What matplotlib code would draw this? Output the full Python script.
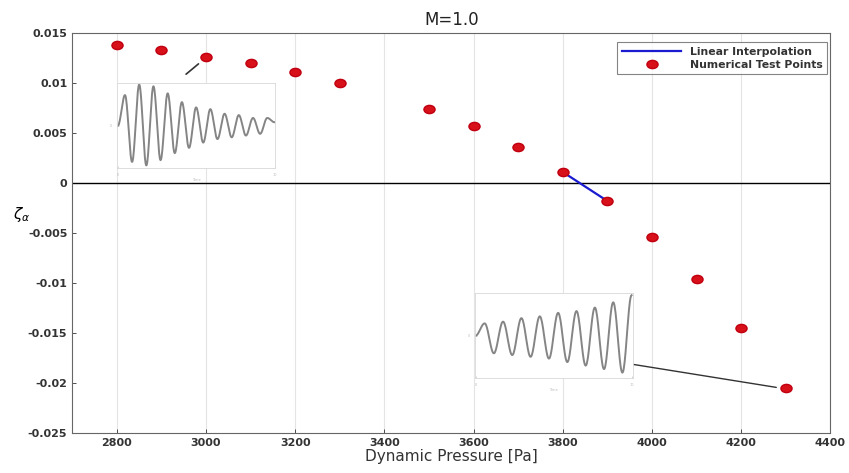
import numpy as np
import matplotlib.pyplot as plt
from matplotlib.path import Path
from matplotlib.transforms import Affine2D

# test points
q_dyn = [2800, 2900, 3000, 3100, 3200, 3300, 3500, 3600, 3700, 3800, 3900, 4000, 4100, 4200, 4300]
zeta = [0.0138, 0.0133, 0.0126, 0.0120, 0.0111, 0.0100, 0.0074, 0.0057, 0.0036, 0.0011,
        -0.0018, -0.0054, -0.0096, -0.0145, -0.0205]

# linear interpolation across the zero crossing
interp_q = [3800, 3900]
interp_zeta = [0.0011, -0.0018]

xticks = [2800, 3000, 3200, 3400, 3600, 3800, 4000, 4200, 4400]
yticks = [-0.025, -0.02, -0.015, -0.01, -0.005, 0, 0.005, 0.01, 0.015]
ytick_labels = ['-0.025', '-0.02', '-0.015', '-0.01', '-0.005', '0', '0.005', '0.01', '0.015']

# extrema of the time signals shown in the insets (arbitrary units)
decay_extrema = [0, 87, -103, 117, -113, 112, -98, 92, -78, 67, -63, 52, -48, 47, -38,
                 34, -33, 30, -28, 22, -23, 22, 10]
grow_extrema = [0, 35, -50, 40, -55, 50, -60, 55, -65, 65, -75, 70, -85, 80, -95, 95, -105, 115]


def half_cycles(extrema, n=20):
    # join successive extrema with half-cosine segments
    out = []
    for a, b in zip(extrema[:-1], extrema[1:]):
        s = np.linspace(0, np.pi, n, endpoint=False)
        out.append(a + (b - a) * (1 - np.cos(s)) / 2)
    out.append([extrema[-1]])
    return np.concatenate(out)


def add_inset(fig, rect, extrema):
    ax = fig.add_axes(rect)
    sig = half_cycles(extrema)
    ax.plot(np.arange(len(sig)), sig, color='#858585', lw=1.4)
    ax.set_xlim(-2, len(sig) + 1)
    ax.set_ylim(-120, 122)
    for s in ax.spines.values():
        s.set_color('#d8d8d8')
        s.set_linewidth(0.6)
    ax.set_xticks([0, len(sig)])
    ax.set_xticklabels(['0', '10'])
    ax.set_yticks([0])
    ax.set_yticklabels(['0'])
    ax.tick_params(labelsize=2.5, colors='#bbbbbb', length=1.5, width=0.4, direction='in')
    ax.set_xlabel('Time', fontsize=2.5, color='#bbbbbb', labelpad=1)
    return ax


# slightly flattened dot, as in the original
oval = Path.unit_circle().transformed(Affine2D().scale(1.35, 1.0))

fig = plt.figure(figsize=(8.49, 4.73), dpi=100)
ax = fig.add_axes([0.085, 0.085, 0.893, 0.845])

ax.axhline(0, color='black', lw=1.0, zorder=1)
ax.grid(True, axis='x', color='#e4e4e4', lw=0.8)
ax.set_axisbelow(True)

ax.plot(interp_q, interp_zeta, color='#1a1ad0', lw=1.6, label='Linear Interpolation', zorder=3)
ax.plot(q_dyn, zeta, linestyle='none', marker=oval, color='#d8101a', markeredgecolor='#c00010',
        markersize=8, label='Numerical Test Points', zorder=4)

ax.set_xlim(2700, 4400)
ax.set_ylim(-0.025, 0.015)
ax.set_xticks(xticks)
ax.set_yticks(yticks)
ax.set_yticklabels(ytick_labels)
ax.tick_params(labelsize=8, colors='#333333', length=3, width=0.6, direction='in')
for lab in ax.get_xticklabels() + ax.get_yticklabels():
    lab.set_fontweight('semibold')
for s in ax.spines.values():
    s.set_color('#666666')
    s.set_linewidth(0.8)

ax.set_xlabel('Dynamic Pressure [Pa]', fontsize=11, color='#333333', labelpad=1)
ax.set_ylabel(r'$\zeta_\alpha$', fontsize=11, rotation=0, ha='center', va='center')
ax.yaxis.set_label_coords(-0.067, 0.545)
ax.set_title('M=1.0', fontsize=12, color='#222222', pad=6)

leg = ax.legend(loc='upper right', frameon=True, fancybox=False,
                edgecolor='#666666', borderpad=0.4, handlelength=5.5, labelspacing=0.3,
                borderaxespad=0.3, bbox_to_anchor=(1.0, 0.985),
                prop={'size': 7.8, 'weight': 'bold'})
leg.get_frame().set_linewidth(0.8)
for t in leg.get_texts():
    t.set_color('#333333')

# connector lines from the insets to their test points
ax.annotate('', xy=(q_dyn[2] - 12, zeta[2] - 0.0005), xytext=(-12, -10), textcoords='offset points',
            arrowprops=dict(arrowstyle='-', color='#333333', lw=1.2))
ax.annotate('', xy=(q_dyn[-1] - 15, zeta[-1]), xytext=(-137, 22), textcoords='offset points',
            arrowprops=dict(arrowstyle='-', color='#333333', lw=1.0))

add_inset(fig, [0.138, 0.645, 0.186, 0.180], decay_extrema)
add_inset(fig, [0.559, 0.201, 0.186, 0.180], grow_extrema)

fig.savefig('out.png', dpi=100)
